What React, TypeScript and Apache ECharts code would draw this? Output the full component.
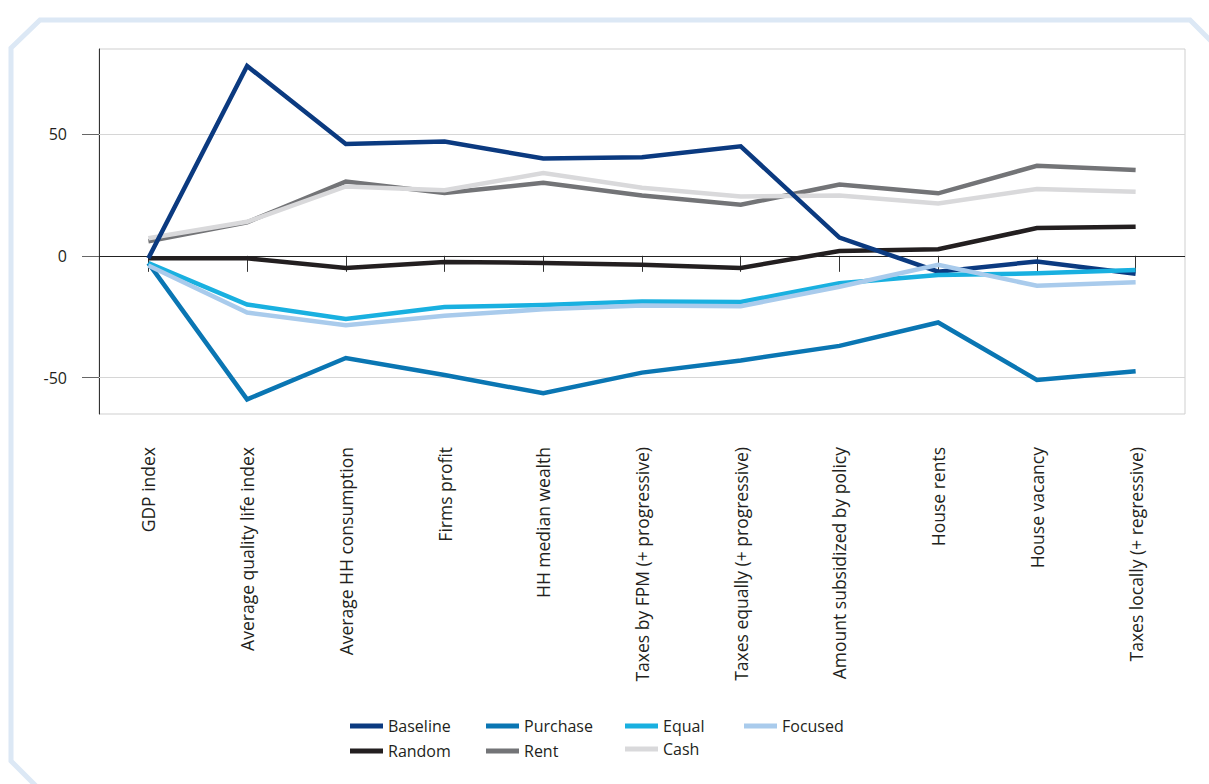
import React, { useEffect, useRef } from "react";
import * as echarts from "echarts";

const categories = [
  "GDP index",
  "Average quality life index",
  "Average HH consumption",
  "Firms profit",
  "HH median wealth",
  "Taxes by FPM (+ progressive)",
  "Taxes equally (+ progressive)",
  "Amount subsidized by policy",
  "House rents",
  "House vacancy",
  "Taxes locally (+ regressive)",
];

const baseline = [-1, 78, 46, 47, 40, 40.5, 45, 7.5, -6.5, -2.3, -7.4];
const purchase = [-3, -59, -42, -49, -56.5, -48, -43, -37, -27.4, -51, -47.4];
const equal = [-3, -20, -26, -21, -20.2, -18.8, -19, -11.3, -7.9, -7.2, -5.8];
const focused = [-4, -23.3, -28.5, -24.6, -22, -20.4, -20.7, -12.7, -3.7, -12.3, -10.9];
const random = [-1, -1, -5, -2.5, -2.9, -3.7, -5, 2, 2.7, 11.4, 12];
const rent = [6, 13.8, 30.5, 25.8, 30, 24.8, 21, 29.3, 25.7, 37, 35.3];
const cash = [7.2, 14, 28.5, 27, 34, 28, 24.4, 24.8, 21.5, 27.5, 26.3];

const yTicks = [-50, 0, 50];

const colors: Record<string, string> = {
  Baseline: "#0b3a80",
  Purchase: "#0a76b3",
  Equal: "#19b0e0",
  Focused: "#a9cbec",
  Random: "#231f20",
  Rent: "#737477",
  Cash: "#d9d9db",
};

const FONT = "'Open Sans', 'Noto Sans', sans-serif";

export default function App() {
  const ref = useRef<HTMLDivElement>(null);
  useEffect(() => {
    document.body.style.margin = "0";
    const chart = echarts.init(ref.current!, null, { renderer: "svg" });
    const mk = (name: string, data: number[], z: number) => ({
      name,
      type: "line",
      data,
      symbol: "none",
      z,
      lineStyle: { width: 4.5, color: colors[name], join: "miter" },
      itemStyle: { color: colors[name] },
    });
    const legendBase = {
      orient: "vertical",
      icon: "rect",
      itemWidth: 33,
      itemHeight: 5,
      itemGap: 7,
      selectedMode: false,
      textStyle: {
        fontSize: 16,
        lineHeight: 18,
        color: "#231f20",
        fontFamily: FONT,
        padding: [0, 0, 0, 0],
      },
    };
    chart.setOption({
      animation: false,
      backgroundColor: "#ffffff",
      textStyle: { fontFamily: FONT },
      grid: {
        left: 99,
        right: 24,
        top: 49,
        bottom: 370,
        show: true,
        borderColor: "#cfcfcf",
        borderWidth: 1,
        backgroundColor: "transparent",
      },
      legend: [
        { ...legendBase, left: 345, top: 712, data: ["Baseline", "Random"] },
        { ...legendBase, left: 481, top: 712, data: ["Purchase", "Rent"] },
        { ...legendBase, left: 620, top: 712, itemGap: 5, data: ["Equal", "Cash"] },
        { ...legendBase, left: 739, top: 712, data: ["Focused"] },
      ],
      xAxis: {
        type: "category",
        data: categories,
        boundaryGap: true,
        axisLine: { show: true, lineStyle: { color: "#cfcfcf", width: 1 } },
        axisTick: {
          show: true,
          alignWithLabel: true,
          length: 16,
          lineStyle: { color: "#333333", width: 1 },
        },
        axisLabel: {
          rotate: 90,
          margin: 33,
          fontSize: 17.5,
          color: "#231f20",
          fontFamily: FONT,
        },
        splitLine: { show: false },
      },
      yAxis: {
        type: "value",
        min: -65,
        max: 85,
        axisLine: { show: true, lineStyle: { color: "#333333", width: 1 } },
        axisTick: {
          show: true,
          length: 17,
          customValues: yTicks,
          lineStyle: { color: "#666666", width: 1 },
        },
        axisLabel: {
          customValues: yTicks,
          margin: 32,
          fontSize: 16,
          color: "#231f20",
          fontFamily: FONT,
        },
        splitLine: { show: false },
      },
      series: [
        {
          name: "_grid",
          type: "line",
          data: [],
          z: 1,
          silent: true,
          markLine: {
            silent: true,
            symbol: "none",
            label: { show: false },
            z: 1,
            data: [
              { yAxis: 50, lineStyle: { color: "#d6d6d6", width: 1.2, type: "solid" } },
              { yAxis: -50, lineStyle: { color: "#d6d6d6", width: 1.2, type: "solid" } },
              { yAxis: 0, lineStyle: { color: "#222222", width: 1.2, type: "solid" } },
            ],
          },
        },
        mk("Random", random, 3),
        mk("Rent", rent, 4),
        mk("Cash", cash, 5),
        mk("Purchase", purchase, 6),
        mk("Baseline", baseline, 7),
        mk("Equal", equal, 8),
        mk("Focused", focused, 9),
      ],
      graphic: [
        {
          type: "polyline",
          silent: true,
          shape: {
            points: [
              [36, 786],
              [11, 761],
              [11, 48],
              [40, 20],
              [1190, 20],
              [1214, 44],
            ],
          },
          style: { stroke: "#dce8f5", lineWidth: 5, fill: null },
        },
      ],
    });
    return () => chart.dispose();
  }, []);
  return (
    <div
      ref={ref}
      style={{ position: "fixed", left: 0, top: 0, width: 1209, height: 784 }}
    />
  );
}
